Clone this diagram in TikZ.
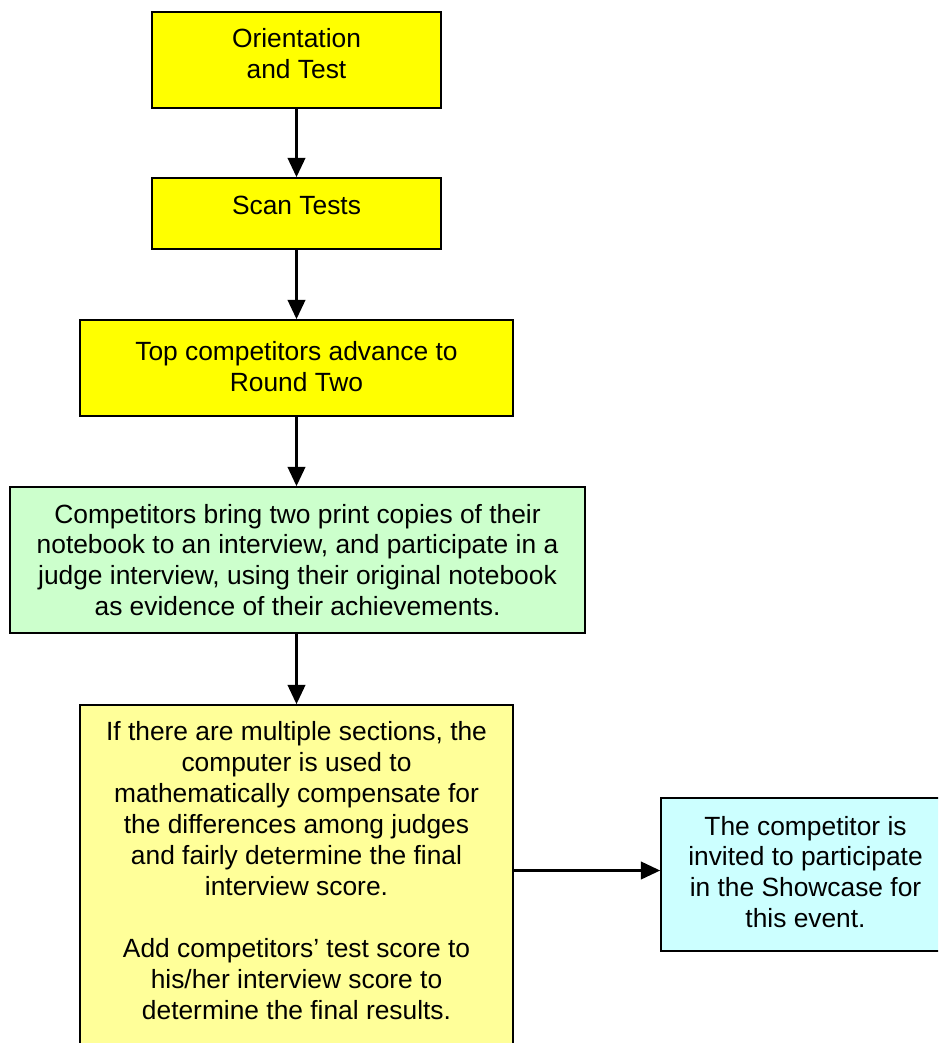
\documentclass[tikz,border=0pt]{standalone}
\usepackage{fontspec}
\setmainfont{Liberation Sans}
\usetikzlibrary{arrows.meta}

\definecolor{boxyellow}{HTML}{FFFF00}
\definecolor{boxgreen}{HTML}{CCFFCC}
\definecolor{boxpale}{HTML}{FFFF99}
\definecolor{boxcyan}{HTML}{CCFFFF}

\begin{document}
\begin{tikzpicture}[x=0.02cm,y=-0.02cm,
  stepbox/.style={draw=black,line width=1pt,inner sep=0pt,align=center,
    font=\fontsize{15}{17.6}\selectfont},
  arr/.style={line width=1.4pt,-{Triangle[length=11pt,width=10pt]}}]
\useasboundingbox (0,0) rectangle (938,1043);
\clip (0,0) rectangle (938,1043);
% boxes
\node[stepbox,fill=boxyellow,minimum width=5.78cm,minimum height=1.92cm,text depth=7pt] (orient) at (296.5,60) {Orientation\\and Test};
\node[stepbox,fill=boxyellow,minimum width=5.78cm,minimum height=1.42cm,text depth=9pt] (scan) at (296.5,213.5) {Scan Tests};
\node[stepbox,fill=boxyellow,minimum width=8.66cm,minimum height=1.92cm,text depth=2pt] (top) at (296.5,368) {Top competitors advance to\\Round Two};
\node[stepbox,fill=boxgreen,minimum width=11.5cm,minimum height=2.92cm] (interview) at (297.5,560) {Competitors bring two print copies of their\\notebook to an interview, and participate in a\\judge interview, using their original notebook\\as evidence of their achievements.};
\node[stepbox,fill=boxpale,minimum width=8.66cm,minimum height=7.3cm] (merge) at (296.5,887.5) {};
\node[align=center,inner sep=0pt,font=\fontsize{15}{17.6}\selectfont] (mergetext) at (296.5,870.5) {If there are multiple sections, the\\computer is used to\\mathematically compensate for\\the differences among judges\\and fairly determine the final\\interview score.\\[17.6pt]Add competitors' test score to\\his/her interview score to\\determine the final results.};
\node[stepbox,fill=boxcyan,minimum width=5.78cm,minimum height=3.06cm,text depth=3pt] (showcase) at (805.5,874.5) {The competitor is\\invited to participate\\in the Showcase for\\this event.};
% arrows
\draw[arr] (orient) -- (scan);
\draw[arr] (scan) -- (top);
\draw[arr] (top.south) -- (top.south |- interview.north);
\draw[arr] (top.south |- interview.south) -- (merge.north);
\draw[arr] (mergetext.east -| merge.east) -- (mergetext.east -| showcase.west);
\end{tikzpicture}
\end{document}
